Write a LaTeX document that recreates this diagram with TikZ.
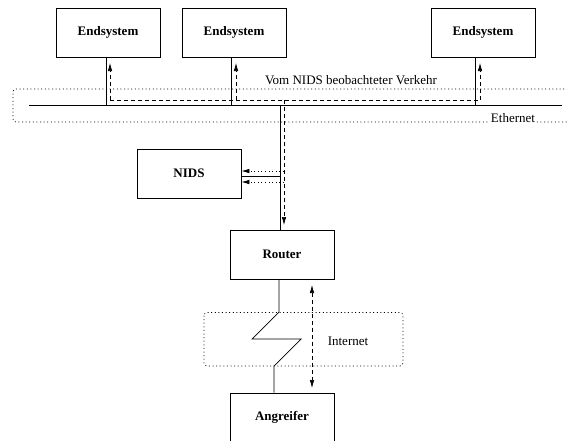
\documentclass[tikz,border=0pt]{standalone}
\usepackage{fontspec}
\setmainfont{Liberation Serif}
\usetikzlibrary{arrows.meta}

\tikzset{
  box/.style={draw, minimum width=104pt, minimum height=49pt,
    font=\fontsize{13}{15}\selectfont\bfseries},
  lbl/.style={font=\fontsize{13}{15}\selectfont, inner sep=1pt},
  pfeil/.style={-{Latex[length=8pt,width=4.5pt]}},
  verkehr/.style={dash pattern=on 4pt off 3pt},
  punkt/.style={dash pattern=on 1pt off 2.6pt},
}

\begin{document}
\begin{tikzpicture}[x=1pt,y=-1pt,line width=0.7pt]
    \useasboundingbox (0,0) rectangle (567,440);

    % Knoten
    \node[box] (es1) at (108,32.5) {Endsystem};
    \node[box] (es2) at (234,32.5) {Endsystem};
    \node[box] (es3) at (483,32.5) {Endsystem};
    \node[box] (nids) at (189,173.5) {NIDS};
    \node[box] (router) at (282,254.5) {Router};
    \node[box] (angreifer) at (282,417.5) {Angreifer};

    % Ethernet
    \draw[punkt, rounded corners=3pt] (575,89) -- (13,89) -- (13,122) -- (575,122);
    \node[lbl, fill=white, anchor=base] (eth) at (513,122) {Ethernet};
    \coordinate (busL) at (29,105);
    \coordinate (busR) at (562,105);
    \draw (busL) -- (busR);

    \coordinate (b1) at (106,105);
    \coordinate (b2) at (231,105);
    \coordinate (b3) at (475,105);
    \coordinate (b4) at (280,105);
    \foreach \b/\e in {b1/es1,b2/es2,b3/es3} {\draw (\b) -- (\b |- \e.south);}
    \draw (b4) -- (b4 |- router.north);

    \coordinate (n1) at (280,176);
    \draw (n1) -- (n1 -| nids.east);

    % beobachteter Verkehr
    \coordinate (v1) at (110,100);
    \coordinate (v2) at (236,100);
    \coordinate (v3) at (480,100);
    \coordinate (v4) at (284,100);
    \draw[verkehr] (v1) -- (v3);
    \foreach \v in {v1,v2,v3} {\draw[verkehr, pfeil] (\v) -- ++(0,-37);}
    \draw[verkehr, pfeil] (v4) -- ++(0,125);
    \node[lbl] (vtxt) at (351,80) {Vom NIDS beobachteter Verkehr};

    \coordinate (k1) at (284,171);
    \coordinate (k2) at (284,182);
    \draw[punkt, pfeil] (k1) -- (k1 -| nids.east);
    \draw[punkt, pfeil] (k2) -- (k2 -| nids.east);

    % Internet
    \draw[punkt, rounded corners=3pt] (204,312.5) rectangle (403,366);
    \node[lbl] (inet) at (348,341) {Internet};
    \coordinate (z0) at (279,312);
    \coordinate (z1) at (252,339);
    \coordinate (z2) at (301,339);
    \coordinate (z3) at (274,366);
    \draw (z0 |- router.south) -- (z0) -- (z1) -- (z2) -- (z3) -- (z3 |- angreifer.north);
    \coordinate (i1) at (312,285);
    \coordinate (i2) at (312,388);
    \draw[verkehr, {Latex[length=8pt,width=4.5pt]}-{Latex[length=8pt,width=4.5pt]}] (i1) -- (i2);
\end{tikzpicture}
\end{document}
